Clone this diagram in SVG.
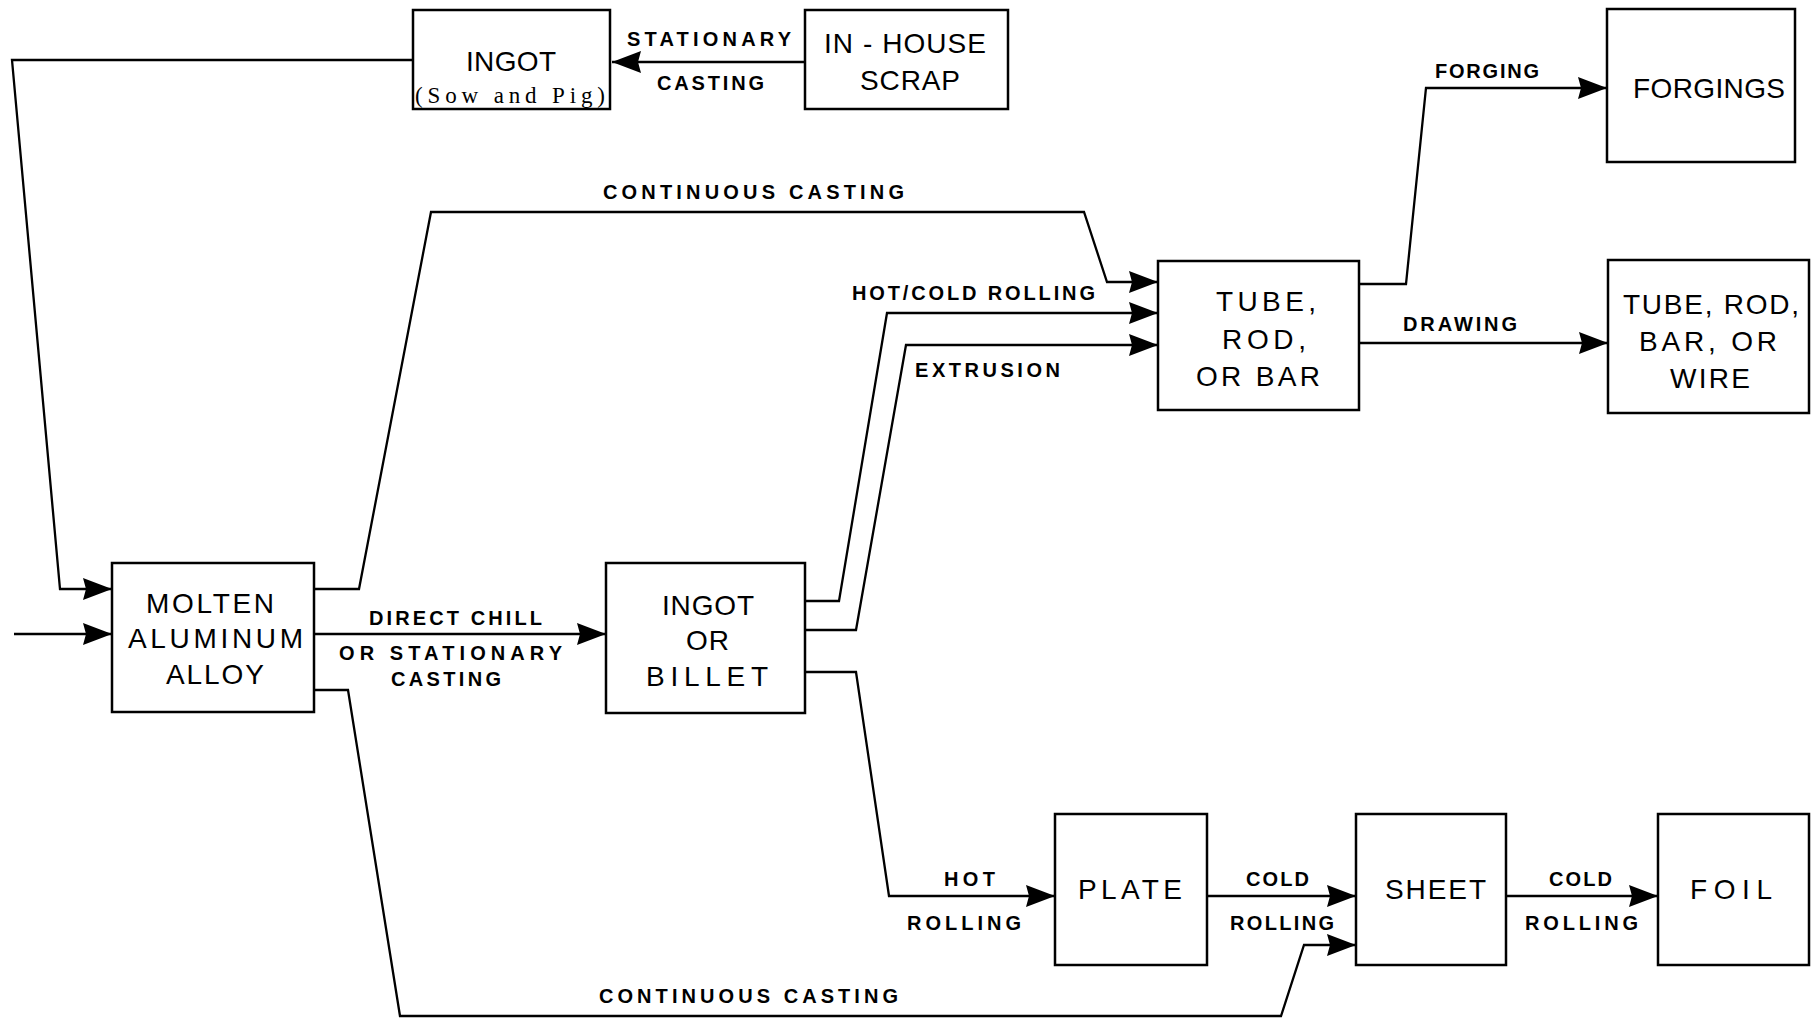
<svg xmlns="http://www.w3.org/2000/svg" width="1818" height="1019" viewBox="0 0 1818 1019">
  <style>
    .box { fill: #fff; stroke: #000; stroke-width: 2.5; }
    .wire { fill: none; stroke: #000; stroke-width: 2.3; stroke-linejoin: miter; }
    .nt { font-family: "Liberation Sans", Arial, sans-serif; font-size: 28px; fill: #000; }
    .lt { font-family: "Liberation Sans", Arial, sans-serif; font-size: 20px; font-weight: bold; fill: #000; }
    .st { font-family: "Liberation Serif", "Times New Roman", serif; font-size: 23px; fill: #000; }
  </style>
  <defs>
    <marker id="arrow" markerUnits="userSpaceOnUse" markerWidth="32" markerHeight="26" refX="29" refY="13" orient="auto">
      <path d="M0,2 L29,13 L0,24 L3,13 z" fill="#000"/>
    </marker>
  </defs>
  <rect width="1818" height="1019" fill="#fff"/>

  <g id="connectors">
    <!-- scrap to ingot -->
    <path class="wire" d="M805,62 L612,62" marker-end="url(#arrow)"/>
    <!-- ingot (sow and pig) back to molten alloy -->
    <path class="wire" d="M413,60 L12,60 L60,589 L112,589" marker-end="url(#arrow)"/>
    <!-- external feed -->
    <path class="wire" d="M14,634 L112,634" marker-end="url(#arrow)"/>
    <!-- continuous casting to tube/rod/bar -->
    <path class="wire" d="M314,589 L359,589 L431,212 L1084,212 L1107,282 L1158,282" marker-end="url(#arrow)"/>
    <!-- direct chill -->
    <path class="wire" d="M314,634 L606,634" marker-end="url(#arrow)"/>
    <!-- hot/cold rolling -->
    <path class="wire" d="M805,601 L839,601 L887,313 L1158,313" marker-end="url(#arrow)"/>
    <!-- extrusion -->
    <path class="wire" d="M805,630 L856,630 L906,345 L1158,345" marker-end="url(#arrow)"/>
    <!-- hot rolling -->
    <path class="wire" d="M805,672 L856,672 L889,896 L1055,896" marker-end="url(#arrow)"/>
    <!-- cold rolling plate to sheet -->
    <path class="wire" d="M1207,896 L1356,896" marker-end="url(#arrow)"/>
    <!-- cold rolling sheet to foil -->
    <path class="wire" d="M1506,896 L1658,896" marker-end="url(#arrow)"/>
    <!-- continuous casting to sheet -->
    <path class="wire" d="M314,690 L348,690 L400,1016 L1281,1016 L1304,945 L1356,945" marker-end="url(#arrow)"/>
    <!-- forging -->
    <path class="wire" d="M1359,284 L1406,284 L1426,88 L1607,88" marker-end="url(#arrow)"/>
    <!-- drawing -->
    <path class="wire" d="M1359,343 L1608,343" marker-end="url(#arrow)"/>
  </g>

  <g id="labels">
    <text class="lt" x="627" y="46" textLength="164">STATIONARY</text>
    <text class="lt" x="657" y="90" textLength="107">CASTING</text>
    <text class="lt" x="603" y="199" textLength="301">CONTINUOUS CASTING</text>
    <text class="lt" x="852" y="300" textLength="243">HOT/COLD ROLLING</text>
    <text class="lt" x="915" y="377" textLength="145">EXTRUSION</text>
    <text class="lt" x="1435" y="78" textLength="104">FORGING</text>
    <text class="lt" x="1403" y="331" textLength="114">DRAWING</text>
    <text class="lt" x="369" y="625" textLength="173">DIRECT CHILL</text>
    <text class="lt" x="339" y="660" textLength="223">OR STATIONARY</text>
    <text class="lt" x="391" y="686" textLength="110">CASTING</text>
    <text class="lt" x="944" y="886" textLength="51">HOT</text>
    <text class="lt" x="907" y="930" textLength="114">ROLLING</text>
    <text class="lt" x="1246" y="886" textLength="63">COLD</text>
    <text class="lt" x="1230" y="930" textLength="104">ROLLING</text>
    <text class="lt" x="1549" y="886" textLength="63">COLD</text>
    <text class="lt" x="1525" y="930" textLength="113">ROLLING</text>
    <text class="lt" x="599" y="1003" textLength="299">CONTINUOUS CASTING</text>
  </g>

  <g id="ingot-sow-pig">
    <rect class="box" x="413" y="10" width="197" height="99"/>
    <text class="nt" x="466" y="71" textLength="90">INGOT</text>
    <text class="st" x="415" y="103" textLength="190">(Sow and Pig)</text>
  </g>
  <g id="in-house-scrap">
    <rect class="box" x="805" y="10" width="203" height="99"/>
    <text class="nt" x="824" y="53" textLength="162">IN - HOUSE</text>
    <text class="nt" x="860" y="90" textLength="100">SCRAP</text>
  </g>
  <g id="forgings">
    <rect class="box" x="1607" y="9" width="188" height="153"/>
    <text class="nt" x="1633" y="98" textLength="152">FORGINGS</text>
  </g>
  <g id="tube-rod-bar">
    <rect class="box" x="1158" y="261" width="201" height="149"/>
    <text class="nt" x="1216" y="311" textLength="100">TUBE,</text>
    <text class="nt" x="1222" y="349" textLength="84">ROD,</text>
    <text class="nt" x="1196" y="386" textLength="124">OR BAR</text>
  </g>
  <g id="tube-rod-bar-wire">
    <rect class="box" x="1608" y="260" width="201" height="153"/>
    <text class="nt" x="1623" y="314" textLength="176">TUBE, ROD,</text>
    <text class="nt" x="1639" y="351" textLength="138">BAR, OR</text>
    <text class="nt" x="1670" y="388" textLength="80">WIRE</text>
  </g>
  <g id="molten-alloy">
    <rect class="box" x="112" y="563" width="202" height="149"/>
    <text class="nt" x="146" y="613" textLength="128">MOLTEN</text>
    <text class="nt" x="128" y="648" textLength="175">ALUMINUM</text>
    <text class="nt" x="166" y="684" textLength="98">ALLOY</text>
  </g>
  <g id="ingot-billet">
    <rect class="box" x="606" y="563" width="199" height="150"/>
    <text class="nt" x="662" y="615" textLength="92">INGOT</text>
    <text class="nt" x="686" y="650" textLength="43">OR</text>
    <text class="nt" x="646" y="686" textLength="122">BILLET</text>
  </g>
  <g id="plate">
    <rect class="box" x="1055" y="814" width="152" height="151"/>
    <text class="nt" x="1078" y="899" textLength="104">PLATE</text>
  </g>
  <g id="sheet">
    <rect class="box" x="1356" y="814" width="150" height="151"/>
    <text class="nt" x="1385" y="899" textLength="101">SHEET</text>
  </g>
  <g id="foil">
    <rect class="box" x="1658" y="814" width="151" height="151"/>
    <text class="nt" x="1690" y="899" textLength="82">FOIL</text>
  </g>
</svg>
